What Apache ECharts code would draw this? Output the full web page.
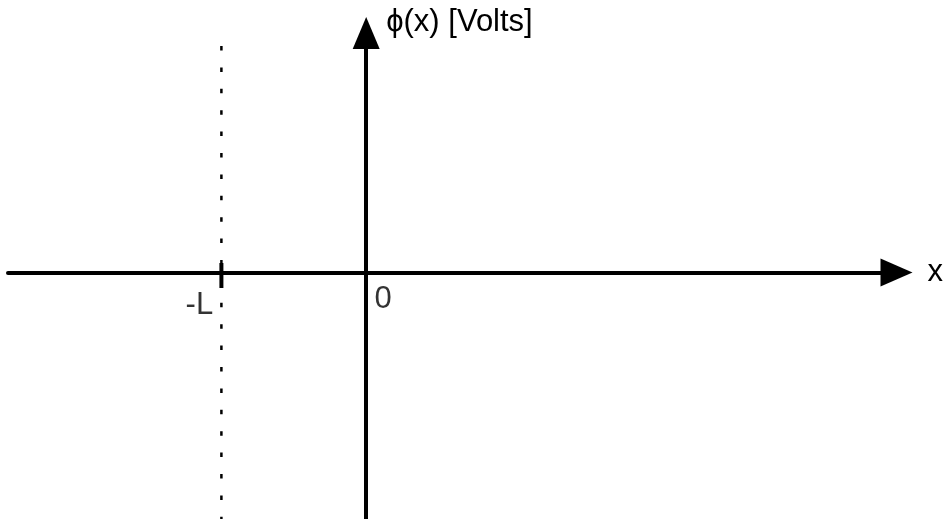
<!DOCTYPE html>
<html>
<head>
<meta charset="utf-8">
<script src="https://cdn.jsdelivr.net/npm/echarts@6/dist/echarts.min.js"></script>
<style>
html,body{margin:0;padding:0;background:#fff;}
#chart{width:946px;height:519px;}
</style>
</head>
<body>
<div id="chart"></div>
<script>
// Data (x in units of L, y arbitrary units)
const xRange = [-2.474, 3.663];
const yRange = [-2.465, 2.395];
const boundaryX = [-1, -1];          // dotted line at x = -L
const boundaryY = [2.265, -2.465];
const tickX = [-1, -1];              // tick mark at x = -L
const tickY = [0.095, -0.155];
const labelNames = ['-L', '0'];
const labelX = [-1, 0];
const labelY = [0, 0];
const xName = 'x';
const yName = 'ϕ(x) [Volts]';

const FONT = "'Liberation Sans', Arial, 'DejaVu Sans', sans-serif";
const labelOffsets = [[-22, 33], [17, 26.5]];

const chart = echarts.init(document.getElementById('chart'), null, {renderer: 'canvas'});
const option = {
  animation: false,
  grid: {left: 8, right: 45, top: 33, bottom: 0, containLabel: false},
  xAxis: {
    type: 'value', min: xRange[0], max: xRange[1],
    name: xName, nameLocation: 'end', nameGap: 31,
    nameTextStyle: {fontFamily: FONT, fontSize: 31, color: '#000'},
    axisLine: {show: true, onZero: true, symbol: ['none', 'triangle'], symbolSize: [28, 32],
      lineStyle: {color: '#000', width: 4}},
    axisTick: {show: false}, axisLabel: {show: false}, splitLine: {show: false}
  },
  yAxis: {
    type: 'value', min: yRange[0], max: yRange[1],
    name: yName, nameLocation: 'end', nameGap: 11,
    nameTextStyle: {fontFamily: FONT, fontSize: 31, color: '#000', align: 'left', verticalAlign: 'middle', padding: [0, 0, 0, 20]},
    axisLine: {show: true, onZero: true, symbol: ['none', 'triangle'], symbolSize: [27, 32],
      lineStyle: {color: '#000', width: 4}},
    axisTick: {show: false}, axisLabel: {show: false}, splitLine: {show: false}
  },
  series: [
    {
      type: 'line', symbol: 'none', silent: true, z: 1,
      data: boundaryX.map((x, i) => [x, boundaryY[i]]),
      lineStyle: {color: '#000', width: 2.5, type: [4.5, 16.9]}
    },
    {
      type: 'line', symbol: 'none', silent: true, z: 3,
      data: tickX.map((x, i) => [x, tickY[i]]),
      lineStyle: {color: '#000', width: 4}
    },
    {
      type: 'scatter', symbolSize: 0, silent: true,
      itemStyle: {color: '#000'},
      data: labelNames.map((n, i) => ({
        name: n, value: [labelX[i], labelY[i]],
        label: {show: true, formatter: n, position: labelOffsets[i], align: 'center', verticalAlign: 'middle',
          fontFamily: FONT, fontSize: 31, color: '#000', textBorderWidth: 0}
      }))
    }
  ]
};
chart.setOption(option);
</script>
</body>
</html>
